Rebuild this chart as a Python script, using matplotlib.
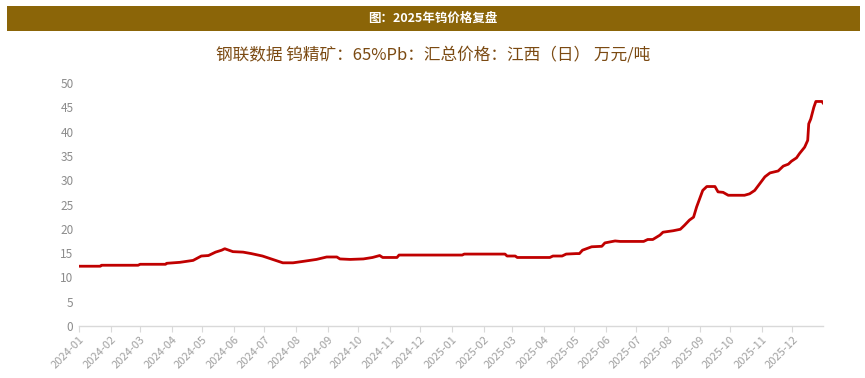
import matplotlib
matplotlib.use("Agg")
import matplotlib.pyplot as plt
import matplotlib.dates as mdates
import pandas as pd
from matplotlib.patches import Rectangle

plt.rcParams['font.family'] = ['Noto Sans CJK SC', 'DejaVu Sans']

header_title = "图：2025年钨价格复盘"
chart_title = "钢联数据 钨精矿：65%Pb：汇总价格：江西（日） 万元/吨"

dates = ["2024-01-01", "2024-01-22", "2024-01-23", "2024-02-28", "2024-03-01", "2024-03-26",
         "2024-03-27", "2024-04-09", "2024-04-22",
         "2024-04-30", "2024-05-07", "2024-05-14", "2024-05-20", "2024-05-23", "2024-05-31",
         "2024-06-10", "2024-06-18", "2024-06-29", "2024-07-09", "2024-07-19", "2024-07-29",
         "2024-08-08", "2024-08-21", "2024-08-31", "2024-09-10", "2024-09-13", "2024-09-23",
         "2024-10-06", "2024-10-15", "2024-10-22", "2024-10-25", "2024-11-08", "2024-11-10",
         "2025-01-11", "2025-01-13", "2025-02-22", "2025-02-24", "2025-03-04", "2025-03-06",
         "2025-04-07", "2025-04-10",
         "2025-04-19", "2025-04-23", "2025-05-03", "2025-05-06", "2025-05-09", "2025-05-18",
         "2025-05-28", "2025-05-31", "2025-06-10", "2025-06-15", "2025-07-08", "2025-07-12",
         "2025-07-17", "2025-07-24", "2025-07-27", "2025-08-06", "2025-08-13", "2025-08-17",
         "2025-08-22", "2025-08-26", "2025-08-29", "2025-09-01", "2025-09-04", "2025-09-08",
         "2025-09-16", "2025-09-19", "2025-09-24", "2025-09-29", "2025-10-15", "2025-10-20",
         "2025-10-25", "2025-10-30", "2025-11-04", "2025-11-09", "2025-11-17", "2025-11-22",
         "2025-11-27", "2025-11-30", "2025-12-05", "2025-12-08", "2025-12-13", "2025-12-16",
         "2025-12-17", "2025-12-19", "2025-12-22", "2025-12-24", "2025-12-30", "2025-12-31"]
prices = [12.3, 12.3, 12.5, 12.5, 12.7, 12.7,
          12.9, 13.1, 13.5,
          14.4, 14.5, 15.2, 15.6, 15.9, 15.3,
          15.2, 14.9, 14.4, 13.7, 13.0, 13.0,
          13.3, 13.7, 14.2, 14.2, 13.8, 13.7,
          13.8, 14.1, 14.5, 14.1, 14.1, 14.6,
          14.6, 14.8, 14.8, 14.4, 14.4, 14.1,
          14.1, 14.4,
          14.4, 14.8, 14.9, 14.9, 15.6, 16.3,
          16.4, 17.1, 17.5, 17.4, 17.4, 17.8,
          17.8, 18.7, 19.3, 19.6, 19.9, 20.7,
          21.8, 22.4, 24.5, 26.2, 27.9, 28.7,
          28.7, 27.6, 27.5, 26.9, 26.9, 27.2,
          27.9, 29.3, 30.7, 31.5, 31.9, 32.9,
          33.3, 33.9, 34.6, 35.5, 36.8, 38.2,
          41.6, 42.6, 45.0, 46.2, 46.2, 45.9]

x_ticks = pd.date_range("2024-01-01", "2025-12-01", freq="MS")
y_ticks = list(range(0, 51, 5))

fig = plt.figure(figsize=(8.65, 3.78), dpi=100)
fig.patch.set_facecolor("white")

# header bar
fig.patches.append(Rectangle((7/865, 1-31/378), 853/865, 25/378, transform=fig.transFigure,
                             facecolor="#8B6508", edgecolor="none", zorder=0))
fig.text(433/865, 1-18.5/378, header_title, color="white", fontsize=9, fontweight="bold",
         ha="center", va="center")
fig.text(433/865, 1-55/378, chart_title, color="#7B4A12", fontsize=12, fontweight="medium",
         ha="center", va="center")

ax = fig.add_axes([79/865, 1-326/378, (823-79)/865, (326-83)/378])
ax.plot(pd.to_datetime(dates), prices, color="#C00000", linewidth=2.0, solid_joinstyle="round")
ax.set_xlim(pd.Timestamp("2024-01-01"), pd.Timestamp("2025-12-31"))
ax.set_ylim(0, 50)
ax.set_yticks(y_ticks)
ax.set_xticks(x_ticks)
ax.xaxis.set_major_formatter(mdates.DateFormatter("%Y-%m"))
for s in ["top", "right", "left"]:
    ax.spines[s].set_visible(False)
ax.spines["bottom"].set_color("#D9D9D9")
ax.spines["bottom"].set_linewidth(1.0)
ax.tick_params(axis="y", length=0, pad=4, labelsize=8.5, labelcolor="#8C8C8C")
ax.tick_params(axis="x", length=4, color="#D9D9D9", labelsize=8, labelcolor="#A0A0A0", pad=2)
for lbl in ax.get_xticklabels():
    lbl.set_rotation(45)
    lbl.set_ha("right")
    lbl.set_rotation_mode("anchor")

fig.savefig("out.png", dpi=100, facecolor="white")
